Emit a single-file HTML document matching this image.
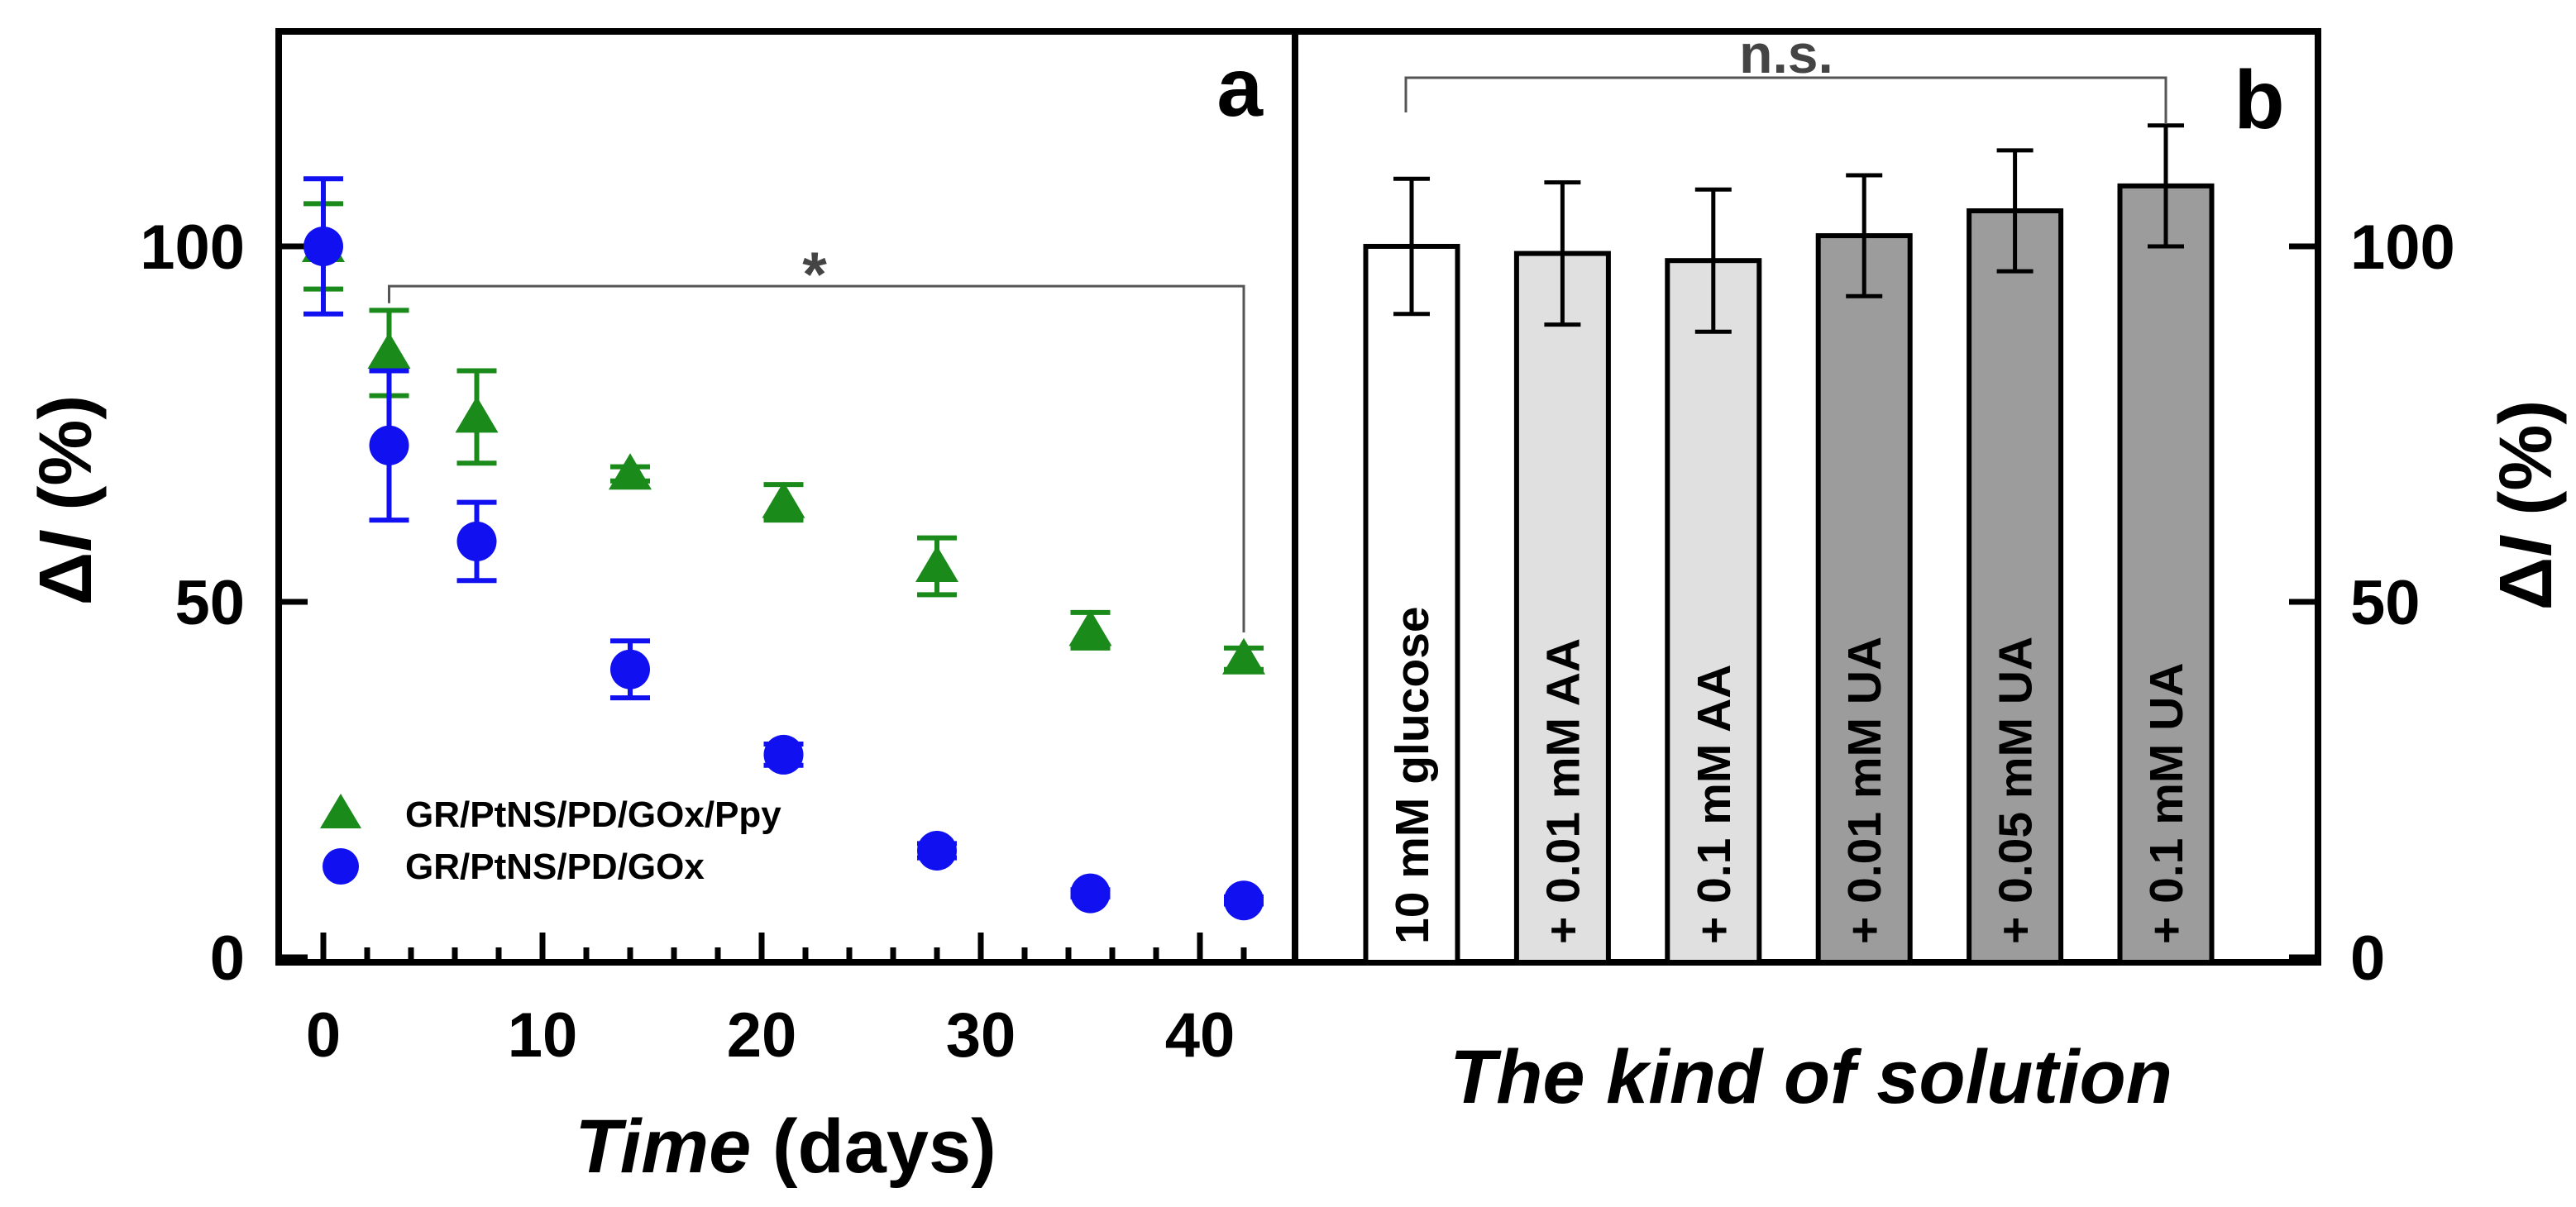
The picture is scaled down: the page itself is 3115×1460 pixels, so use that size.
<!DOCTYPE html>
<html><head><meta charset="utf-8"><style>
body{margin:0;background:#fff;overflow:hidden}
svg{display:block;font-family:"Liberation Sans",Arial,sans-serif;font-weight:bold}
</style></head><body>
<svg id="chart" width="3115" height="1460" viewBox="0 0 3115 1460" xmlns="http://www.w3.org/2000/svg">
<g id="pa"></g>
<g id="pb"></g>
</svg>
<script>
const days = [0,3,7,14,21,28,35,42];
const pyVals = [100,85,76,68,64,55,46,42];
const pyErr = [6,6,6.5,1,2.5,4,2.5,1.5];
const goxVals = [100,72,58.5,40.5,28.5,15,9,8];
const goxErr = [9.5,10.5,5.5,4,1.5,1,0.5,0.5];
const xTicks = [0,10,20,30,40];
const yTicks = [0,50,100];
const solutions = ["10 mM glucose","+ 0.01 mM AA","+ 0.1 mM AA","+ 0.01 mM UA","+ 0.05 mM UA","+ 0.1 mM UA"];
const barVals = [100,99,98,101.5,105,108.5];
const barErr = [9.5,10,10,8.5,8.5,8.5];
const barFills = ["#ffffff","#e0e0e0","#e0e0e0","#9c9c9c","#9c9c9c","#9c9c9c"];

const NS="http://www.w3.org/2000/svg";
function mk(parent,tag,attrs,text){const e=document.createElementNS(NS,tag);for(const k in attrs)e.setAttribute(k,attrs[k]);if(text!==undefined)e.textContent=text;parent.appendChild(e);return e;}
const Y0=1158, PU=8.6;
const yS=v=>Y0-v*PU;
const xA=d=>391+d*26.5;
const xB=i=>1707+i*182.4;
const AX=1164;
const pa=document.getElementById('pa'), pb=document.getElementById('pb');

let f=mk(pa,'rect',{x:337,y:38,width:1229,height:AX-38,fill:'none',stroke:'#000','stroke-width':8});


for(let d=0;d<=42;d+=2){const maj=d%10===0;let t=mk(pa,'line',{x1:xA(d),x2:xA(d),y1:AX,y2:maj?AX-36:AX-18,stroke:'#000','stroke-width':7});

}
xTicks.forEach(v=>{let t=mk(pa,'text',{x:xA(v),y:1278,'text-anchor':'middle','font-size':76},String(v));

});
yTicks.forEach(v=>{let l=mk(pa,'line',{x1:337,x2:372,y1:yS(v),y2:yS(v),stroke:'#000','stroke-width':7});


let t=mk(pa,'text',{x:296,y:yS(v)+27,'text-anchor':'end','font-size':76},String(v));

});
let yt=mk(pa,'text',{transform:'translate(110,605) rotate(-90)','text-anchor':'middle','font-size':90});


yt.innerHTML='Δ<tspan font-style="italic">I</tspan> (%)';
let xt=mk(pa,'text',{x:950,y:1418,'text-anchor':'middle','font-size':92});


xt.innerHTML='<tspan font-style="italic">Time</tspan> (days)';
let la=mk(pa,'text',{x:1527,y:140,'text-anchor':'end','font-size':100},'a');


let br=mk(pa,'path',{d:`M${xA(3)},${yS(92)} L${xA(3)},${yS(94.4)} L${xA(42)},${yS(94.4)} L${xA(42)},${yS(45.7)}`,fill:'none',stroke:'#555','stroke-width':3});


let st=mk(pa,'text',{x:985,y:yS(94.4)+12,'text-anchor':'middle','font-size':76,fill:'#444'},'*');


function errbar(g,x,v,e,col,w,sw){return mk(g,'path',{d:`M${x},${yS(v+e)}V${yS(v-e)}M${x-w},${yS(v+e)}H${x+w}M${x-w},${yS(v-e)}H${x+w}`,stroke:col,'stroke-width':sw,fill:'none'});}
const green='#1a8a1a', blue='#1010f0';
days.forEach((d,i)=>{
 let e=errbar(pa,xA(d),pyVals[i],pyErr[i],green,24,6);
 
 
 const x=xA(d),y=yS(pyVals[i]);
 let m=mk(pa,'polygon',{points:`${x},${y-25} ${x-26},${y+19} ${x+26},${y+19}`,fill:green});
 
 
});
days.forEach((d,i)=>{
 let e=errbar(pa,xA(d),goxVals[i],goxErr[i],blue,24,6);
 
 
 let m=mk(pa,'circle',{cx:xA(d),cy:yS(goxVals[i]),r:24,fill:blue});
 
 
});
let lg=mk(pa,'g',{});


let l1=mk(lg,'polygon',{points:'412,960 387,1002 437,1002',fill:green});


let l1t=mk(lg,'text',{x:490,y:1000,'font-size':44},'GR/PtNS/PD/GOx/Ppy');


let l2=mk(lg,'circle',{cx:412,cy:1048,r:22,fill:blue});


let l2t=mk(lg,'text',{x:490,y:1063,'font-size':44},'GR/PtNS/PD/GOx');



let fb=mk(pb,'rect',{x:1566,y:38,width:1237,height:AX-38,fill:'none',stroke:'#000','stroke-width':8});


solutions.forEach((s,i)=>{
 const x=xB(i),w=111;
 let r=mk(pb,'rect',{x:x-w/2,y:yS(barVals[i]),width:w,height:AX-yS(barVals[i]),fill:barFills[i],stroke:'#000','stroke-width':6});
 
 
 let e=errbar(pb,x,barVals[i],barErr[i],'#000',22,5);
 
 
 let t=mk(pb,'text',{transform:`translate(${x+20},1142) rotate(-90)`,'font-size':57},s);
 
 
});
yTicks.forEach(v=>{let l=mk(pb,'line',{x1:2768,x2:2803,y1:yS(v),y2:yS(v),stroke:'#000','stroke-width':7});


let t=mk(pb,'text',{x:2842,y:yS(v)+27,'font-size':76},String(v));

});
let yt2=mk(pb,'text',{transform:'translate(3085,611) rotate(-90)','text-anchor':'middle','font-size':90});


yt2.innerHTML='Δ<tspan font-style="italic">I</tspan> (%)';
let xt2=mk(pb,'text',{x:2190,y:1334,'text-anchor':'middle','font-size':92,'font-style':'italic'},'The kind of solution');


let lb=mk(pb,'text',{x:2732,y:155,'text-anchor':'middle','font-size':100},'b');


let br2=mk(pb,'path',{d:`M${xB(0)-7},136 V94 H${xB(5)} V150`,fill:'none',stroke:'#555','stroke-width':3});


let ns=mk(pb,'text',{x:2160,y:88,'text-anchor':'middle','font-size':66,fill:'#444'},'n.s.');


</script>
</body></html>
